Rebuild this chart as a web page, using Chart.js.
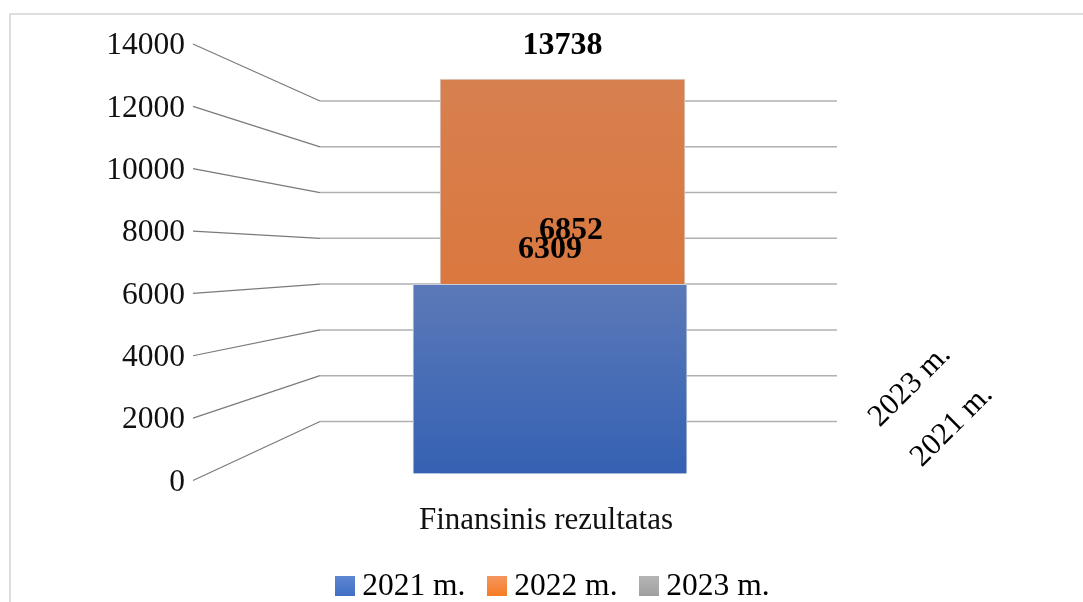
<!DOCTYPE html>
<html>
<head>
<meta charset="utf-8">
<title>Finansinis rezultatas</title>
<script src="https://cdn.jsdelivr.net/npm/chart.js@4"></script>
<style>
    html, body { margin: 0; padding: 0; background: #fff; overflow: hidden; }
    #wrap { position: relative; width: 1083px; height: 602px; }
    #frame { position: absolute; left: 9px; top: 13px; right: -5px; bottom: -5px; border: 2px solid #dedede; }
    #chart { position: absolute; left: 0; top: 0; }
</style>
</head>
<body>
<div id="wrap">
    <div id="frame"></div>
    <canvas id="chart" width="1083" height="602"></canvas>
</div>
<script>
const categories = ['Finansinis rezultatas'];
const seriesNames = ['2021 m.', '2022 m.', '2023 m.'];
const values2021 = [6309];
const values2022 = [6852];
const values2023 = [13738];
const depthLabels = ['2023 m.', '2021 m.'];
const tickValues = [0, 2000, 4000, 6000, 8000, 10000, 12000, 14000];

const fontName = '"Liberation Serif", "Times New Roman", serif';

// kvadratelis legendai
function legendBox(top, bottom) {
    const c = document.createElement('canvas');
    c.width = 20;
    c.height = 20;
    const g = c.getContext('2d');
    const grad = g.createLinearGradient(0, 0, 0, 20);
    grad.addColorStop(0, top);
    grad.addColorStop(1, bottom);
    g.fillStyle = grad;
    g.fillRect(0, 0, 20, 20);
    return c;
}
const legendBoxes = [
    legendBox('#5f86d2', '#3f6fc4'),
    legendBox('#f4965e', '#f77b24'),
    legendBox('#b5b5b5', '#a0a0a0')
];

function barGradient(context, top, bottom, topValue) {
    const chart = context.chart;
    if (!chart.chartArea) return bottom;
    const s = chart.scales.yBars;
    const grad = chart.ctx.createLinearGradient(0, s.getPixelForValue(topValue), 0, s.getPixelForValue(0));
    grad.addColorStop(0, top);
    grad.addColorStop(1, bottom);
    return grad;
}

// 3D sienos linijos: priekinis kraštas -> galinė siena -> dešinė
const wallLines = {
    id: 'wallLines',
    beforeDatasetsDraw(chart) {
        const ctx = chart.ctx;
        const front = chart.scales.y;
        const back = chart.scales.yBack;
        const x0 = chart.chartArea.left;
        const x1 = 320;
        const x2 = 837;
        ctx.save();
        tickValues.forEach(v => {
            const yf = front.getPixelForValue(v) - 2;
            const yb = back.getPixelForValue(v);
            ctx.lineWidth = 1.2;
            ctx.strokeStyle = '#7a7a7a';
            ctx.beginPath();
            ctx.moveTo(x0, yf);
            ctx.lineTo(x1, yb);
            ctx.stroke();
            ctx.lineWidth = 1.5;
            ctx.strokeStyle = '#b0b0b0';
            ctx.beginPath();
            ctx.moveTo(x1, yb);
            ctx.lineTo(x2, yb);
            ctx.stroke();
        });
        ctx.restore();
    }
};

// reikšmių užrašai ir gylio ašies užrašai
const textLabels = {
    id: 'textLabels',
    afterDatasetsDraw(chart) {
        const ctx = chart.ctx;
        const xs = chart.scales.xBars;
        const ys = chart.scales.yBars;
        ctx.save();
        ctx.fillStyle = '#000';
        ctx.textAlign = 'center';
        ctx.textBaseline = 'middle';
        ctx.font = 'bold 32px ' + fontName;
        ctx.fillText(String(values2023[0]), xs.getPixelForValue(1), ys.getPixelForValue(values2023[0]) - 16);
        ctx.fillText(String(values2022[0]), xs.getPixelForValue(1) + 8.5, ys.getPixelForValue(values2021[0]) - 54);
        ctx.fillText(String(values2021[0]), xs.getPixelForValue(0), ys.getPixelForValue(values2021[0]) - 35);

        ctx.font = '31px ' + fontName;
        const spots = [[910, 386], [952, 426]];
        depthLabels.forEach((t, i) => {
            ctx.save();
            ctx.translate(spots[i][0], spots[i][1]);
            ctx.rotate(-Math.PI / 4);
            ctx.fillText(t, 0, 0);
            ctx.restore();
        });
        ctx.restore();
    }
};

// legenda centruota ne pagal grafiko plotą
const moveLegend = {
    id: 'moveLegend',
    afterLayout(chart) {
        chart.legend.left += 107;
        chart.legend.right += 107;
    }
};

new Chart(document.getElementById('chart'), {
    type: 'bar',
    data: {
        labels: categories,
        datasets: [
            {
                label: seriesNames[0],
                data: [{ x: 0, y: values2021[0] }],
                xAxisID: 'xBars',
                yAxisID: 'yBars',
                order: 1,
                grouped: false,
                barThickness: 274,
                borderWidth: 1,
                borderColor: '#c9ced8',
                backgroundColor: c => barGradient(c, '#5b79b8', '#3561b3', values2021[0])
            },
            {
                label: seriesNames[1],
                data: [{ x: 1, y: [0, values2021[0] + values2022[0]] }],
                xAxisID: 'xBars',
                yAxisID: 'yBars',
                order: 2,
                grouped: false,
                barThickness: 245,
                borderWidth: 1,
                borderColor: '#d9d4d0',
                borderSkipped: false,
                backgroundColor: c => barGradient(c, '#d7804f', '#dd7030', values2021[0] + values2022[0])
            },
            {
                // 2023 m. stulpelio paveiksle nesimato, lieka tik užrašas ir legenda
                label: seriesNames[2],
                data: [{ x: 1, y: values2023[0] }],
                xAxisID: 'xBars',
                yAxisID: 'yBars',
                order: 3,
                grouped: false,
                barThickness: 245,
                backgroundColor: 'rgba(0,0,0,0)'
            }
        ]
    },
    options: {
        responsive: false,
        animation: false,
        devicePixelRatio: 1,
        layout: { padding: { left: 0, top: 46, right: 184, bottom: -10 } },
        scales: {
            x: {
                type: 'category',
                position: 'bottom',
                grid: { display: false, drawTicks: false },
                border: { display: false },
                ticks: { color: '#111', font: { family: fontName, size: 31 }, padding: 20, maxRotation: 0 },
                afterFit(s) { s.height = 58; }
            },
            y: {
                type: 'linear',
                position: 'left',
                min: 0,
                max: 14000,
                grid: { display: false, drawTicks: false },
                border: { display: false },
                ticks: {
                    stepSize: 2000,
                    color: '#111',
                    font: { family: fontName, size: 31.5 },
                    padding: 8,
                    callback: v => String(v)
                },
                afterFit(s) { s.width = 193; }
            },
            xBars: { type: 'linear', axis: 'x', display: false, offset: false, bounds: 'data', min: -28.56, max: 27.92 },
            yBars: { type: 'linear', axis: 'y', display: false, bounds: 'data', min: -300.6, max: 14262 },
            yBack: { type: 'linear', axis: 'y', display: false, bounds: 'data', min: -2669, max: 16406 }
        },
        plugins: {
            tooltip: { enabled: false },
            legend: {
                position: 'bottom',
                labels: {
                    usePointStyle: true,
                    pointStyleWidth: 3,
                    padding: 30,
                    color: '#111',
                    font: { family: fontName, size: 31.5 },
                    generateLabels(chart) {
                        return chart.data.datasets.map((d, i) => ({
                            text: d.label,
                            pointStyle: legendBoxes[i],
                            fillStyle: '#000',
                            strokeStyle: '#000',
                            lineWidth: 0,
                            hidden: false,
                            datasetIndex: i
                        }));
                    }
                }
            }
        }
    },
    plugins: [wallLines, textLabels, moveLegend]
});
</script>
</body>
</html>
